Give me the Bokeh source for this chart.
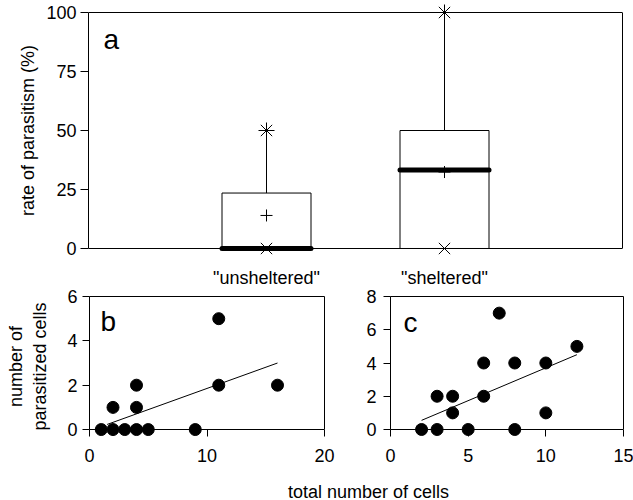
from bokeh.plotting import figure
from bokeh.models import Range1d, LinearAxis, FixedTicker, Label
from bokeh.layouts import column, row
from bokeh.embed import file_html
from bokeh.resources import INLINE

FONT = "Liberation Sans"

# ---- panel a: box plots of rate of parasitism (%) ----
groups = ['"unsheltered"', '"sheltered"']
q1 = [0, 0]
median = [0, 33.3]
q3 = [23.5, 50]
max_v = [50, 100]
min_v = [0, 0]
mean_v = [14, 32.4]
a_ticks = [0, 25, 50, 75, 100]

# ---- panel b: unsheltered ----
b_total = [1, 2, 3, 4, 5, 9, 2, 4, 4, 11, 11, 16]
b_para = [0, 0, 0, 0, 0, 0, 1, 1, 2, 2, 5, 2]
b_fit_x = [1.5, 16]
b_fit_y = [0.23, 3.0]
b_xticks = [0, 10, 20]
b_yticks = [0, 2, 4, 6]

# ---- panel c: sheltered ----
c_total = [2, 3, 5, 8, 3, 4, 4, 6, 6, 8, 10, 10, 7, 12]
c_para = [0, 0, 0, 0, 2, 2, 1, 2, 4, 4, 4, 1, 7, 5]
c_fit_x = [2, 12]
c_fit_y = [0.55, 4.5]
c_xticks = [0, 5, 10, 15]
c_yticks = [0, 2, 4, 6, 8]

A_H = 291          # height of panel a figure
OVERLAP = 14       # bottom row pulled up over panel a's empty bottom strip
ROW_TOP = A_H - OVERLAP
ROW_H = 475 - ROW_TOP
TOP_B = 296 - ROW_TOP


def style_axis(ax, ticks, tick_out, standoff, tick_in=0):
    ax.ticker = FixedTicker(ticks=ticks)
    ax.major_tick_out = tick_out
    ax.major_tick_in = tick_in
    ax.minor_tick_line_color = None
    ax.major_label_standoff = standoff
    ax.major_label_text_font = FONT
    ax.major_label_text_font_size = "18px"
    ax.major_label_text_color = "black"
    ax.axis_line_color = "black"
    ax.major_tick_line_color = "black"
    ax.axis_label_text_font = FONT
    ax.axis_label_text_font_size = "18px"
    ax.axis_label_text_font_style = "normal"
    ax.axis_label_text_color = "black"


def edge(p, loc, bounds=None, fixed=None):
    ax = LinearAxis(ticker=FixedTicker(ticks=[]), major_tick_out=0, major_tick_in=0,
                    minor_tick_out=0, minor_tick_in=0, axis_line_color="black",
                    major_label_standoff=0)
    if bounds is not None:
        ax.bounds = bounds
    if fixed is not None:
        ax.fixed_location = fixed
    p.add_layout(ax, loc)


def base_fig(**kw):
    p = figure(toolbar_location=None, output_backend="svg", **kw)
    p.outline_line_color = None
    p.grid.visible = False
    p.background_fill_color = "white"
    p.border_fill_color = "white"
    return p


# ================= panel a =================
pos = [i + 1 for i in range(len(groups))]
half = 0.25
pa = base_fig(width=630, height=A_H, x_range=Range1d(0, 3),
              y_range=Range1d(-3.814, 103.814),
              min_border_left=88, min_border_right=8,
              min_border_top=3, min_border_bottom=A_H - 257)
xa = pa.xaxis[0]
style_axis(xa, pos, 0, 10)
xa.axis_line_color = None
xa.major_tick_line_color = None
xa.major_label_overrides = {p_: g for p_, g in zip(pos, groups)}
ya = pa.yaxis[0]
style_axis(ya, a_ticks, 8, 4)
ya.bounds = (0, 100)
ya.axis_label = "rate of parasitism (%)"
ya.axis_label_standoff = 5
edge(pa, "right", bounds=(0, 100))
edge(pa, "above", fixed=100)
edge(pa, "below", fixed=0)

left = [x - half for x in pos]
right = [x + half for x in pos]
pa.quad(left=left, right=right, bottom=q1, top=q3, fill_color="white",
        line_color="black", line_width=1)
pa.segment(x0=pos, x1=pos, y0=q3, y1=max_v, line_color="black", line_width=1)
pa.segment(x0=pos, x1=pos, y0=min_v, y1=q1, line_color="black", line_width=1)
pa.segment(x0=left, x1=right, y0=median, y1=median, line_color="black",
           line_width=5, line_cap="round")
pa.scatter(pos, max_v, marker="asterisk", size=16, line_color="black", line_width=1)
pa.scatter(pos, min_v, marker="x", size=16, line_color="black", line_width=1)
pa.scatter(pos, mean_v, marker="cross", size=12, line_color="black", line_width=1)
pa.add_layout(Label(x=0.084, y=88.5, text="a", text_font=FONT, text_font_size="28px",
                    text_color="black", text_baseline="alphabetic", text_align="left"))


# ================= panels b, c =================
def scatter_panel(width, xr, yr, mb_left, mb_right, frame_h, xticks, yticks,
                  xs, ys, fx, fy, letter, lx, ly, yl_out, yl_standoff, ylabel=None):
    p = base_fig(width=width, height=ROW_H, x_range=Range1d(*xr),
                 y_range=Range1d(*yr),
                 min_border_left=mb_left, min_border_right=mb_right,
                 min_border_top=TOP_B, min_border_bottom=ROW_H - TOP_B - frame_h)
    p.border_fill_color = None
    xax = p.xaxis[0]
    style_axis(xax, xticks, 0, 12, tick_in=7)
    xax.axis_line_color = None
    yax = p.yaxis[0]
    style_axis(yax, yticks, 7, yl_standoff)
    yax.bounds = (0, yr[1])
    if ylabel:
        yax.axis_label = ylabel
        yax.axis_label_standoff = yl_out
    edge(p, "right", bounds=(0, yr[1]))
    edge(p, "above")
    edge(p, "below", fixed=0)
    p.line(fx, fy, line_color="black", line_width=1)
    p.scatter(xs, ys, marker="circle", size=12, fill_color="black", line_color="black")
    p.add_layout(Label(x=lx, y=ly, text=letter, text_font=FONT, text_font_size="28px",
                       text_color="black", text_baseline="alphabetic", text_align="left"))
    return p


pb = scatter_panel(344, (0, 20), (-0.3134, 6), 89, 20, 141, b_xticks, b_yticks,
                   b_total, b_para, b_fit_x, b_fit_y, "b", 0.94, 4.88, 14, 5,
                   ylabel="number of\nparasitized cells")
pc = scatter_panel(289, (0, 15), (-0.421, 8), 46, 10, 140, c_xticks, c_yticks,
                   c_total, c_para, c_fit_x, c_fit_y, "c", 0.84, 6.45, 0, 7)

# ================= shared x label =================
pl = figure(width=633, height=25, x_range=Range1d(0, 633), y_range=Range1d(0, 25),
            toolbar_location=None, output_backend="svg", min_border=0,
            x_axis_location=None, y_axis_location=None)
pl.outline_line_color = None
pl.grid.visible = False
pl.add_layout(Label(x=330, y=9, text="total number of cells", text_font=FONT,
                    text_font_size="18px", text_color="black",
                    text_align="center", text_baseline="alphabetic"))

bottom_row = row(pb, pc, margin=(-OVERLAP, 0, 0, 0))
layout = column(pa, bottom_row, pl)
open("out.html", "w").write(file_html(layout, INLINE))
